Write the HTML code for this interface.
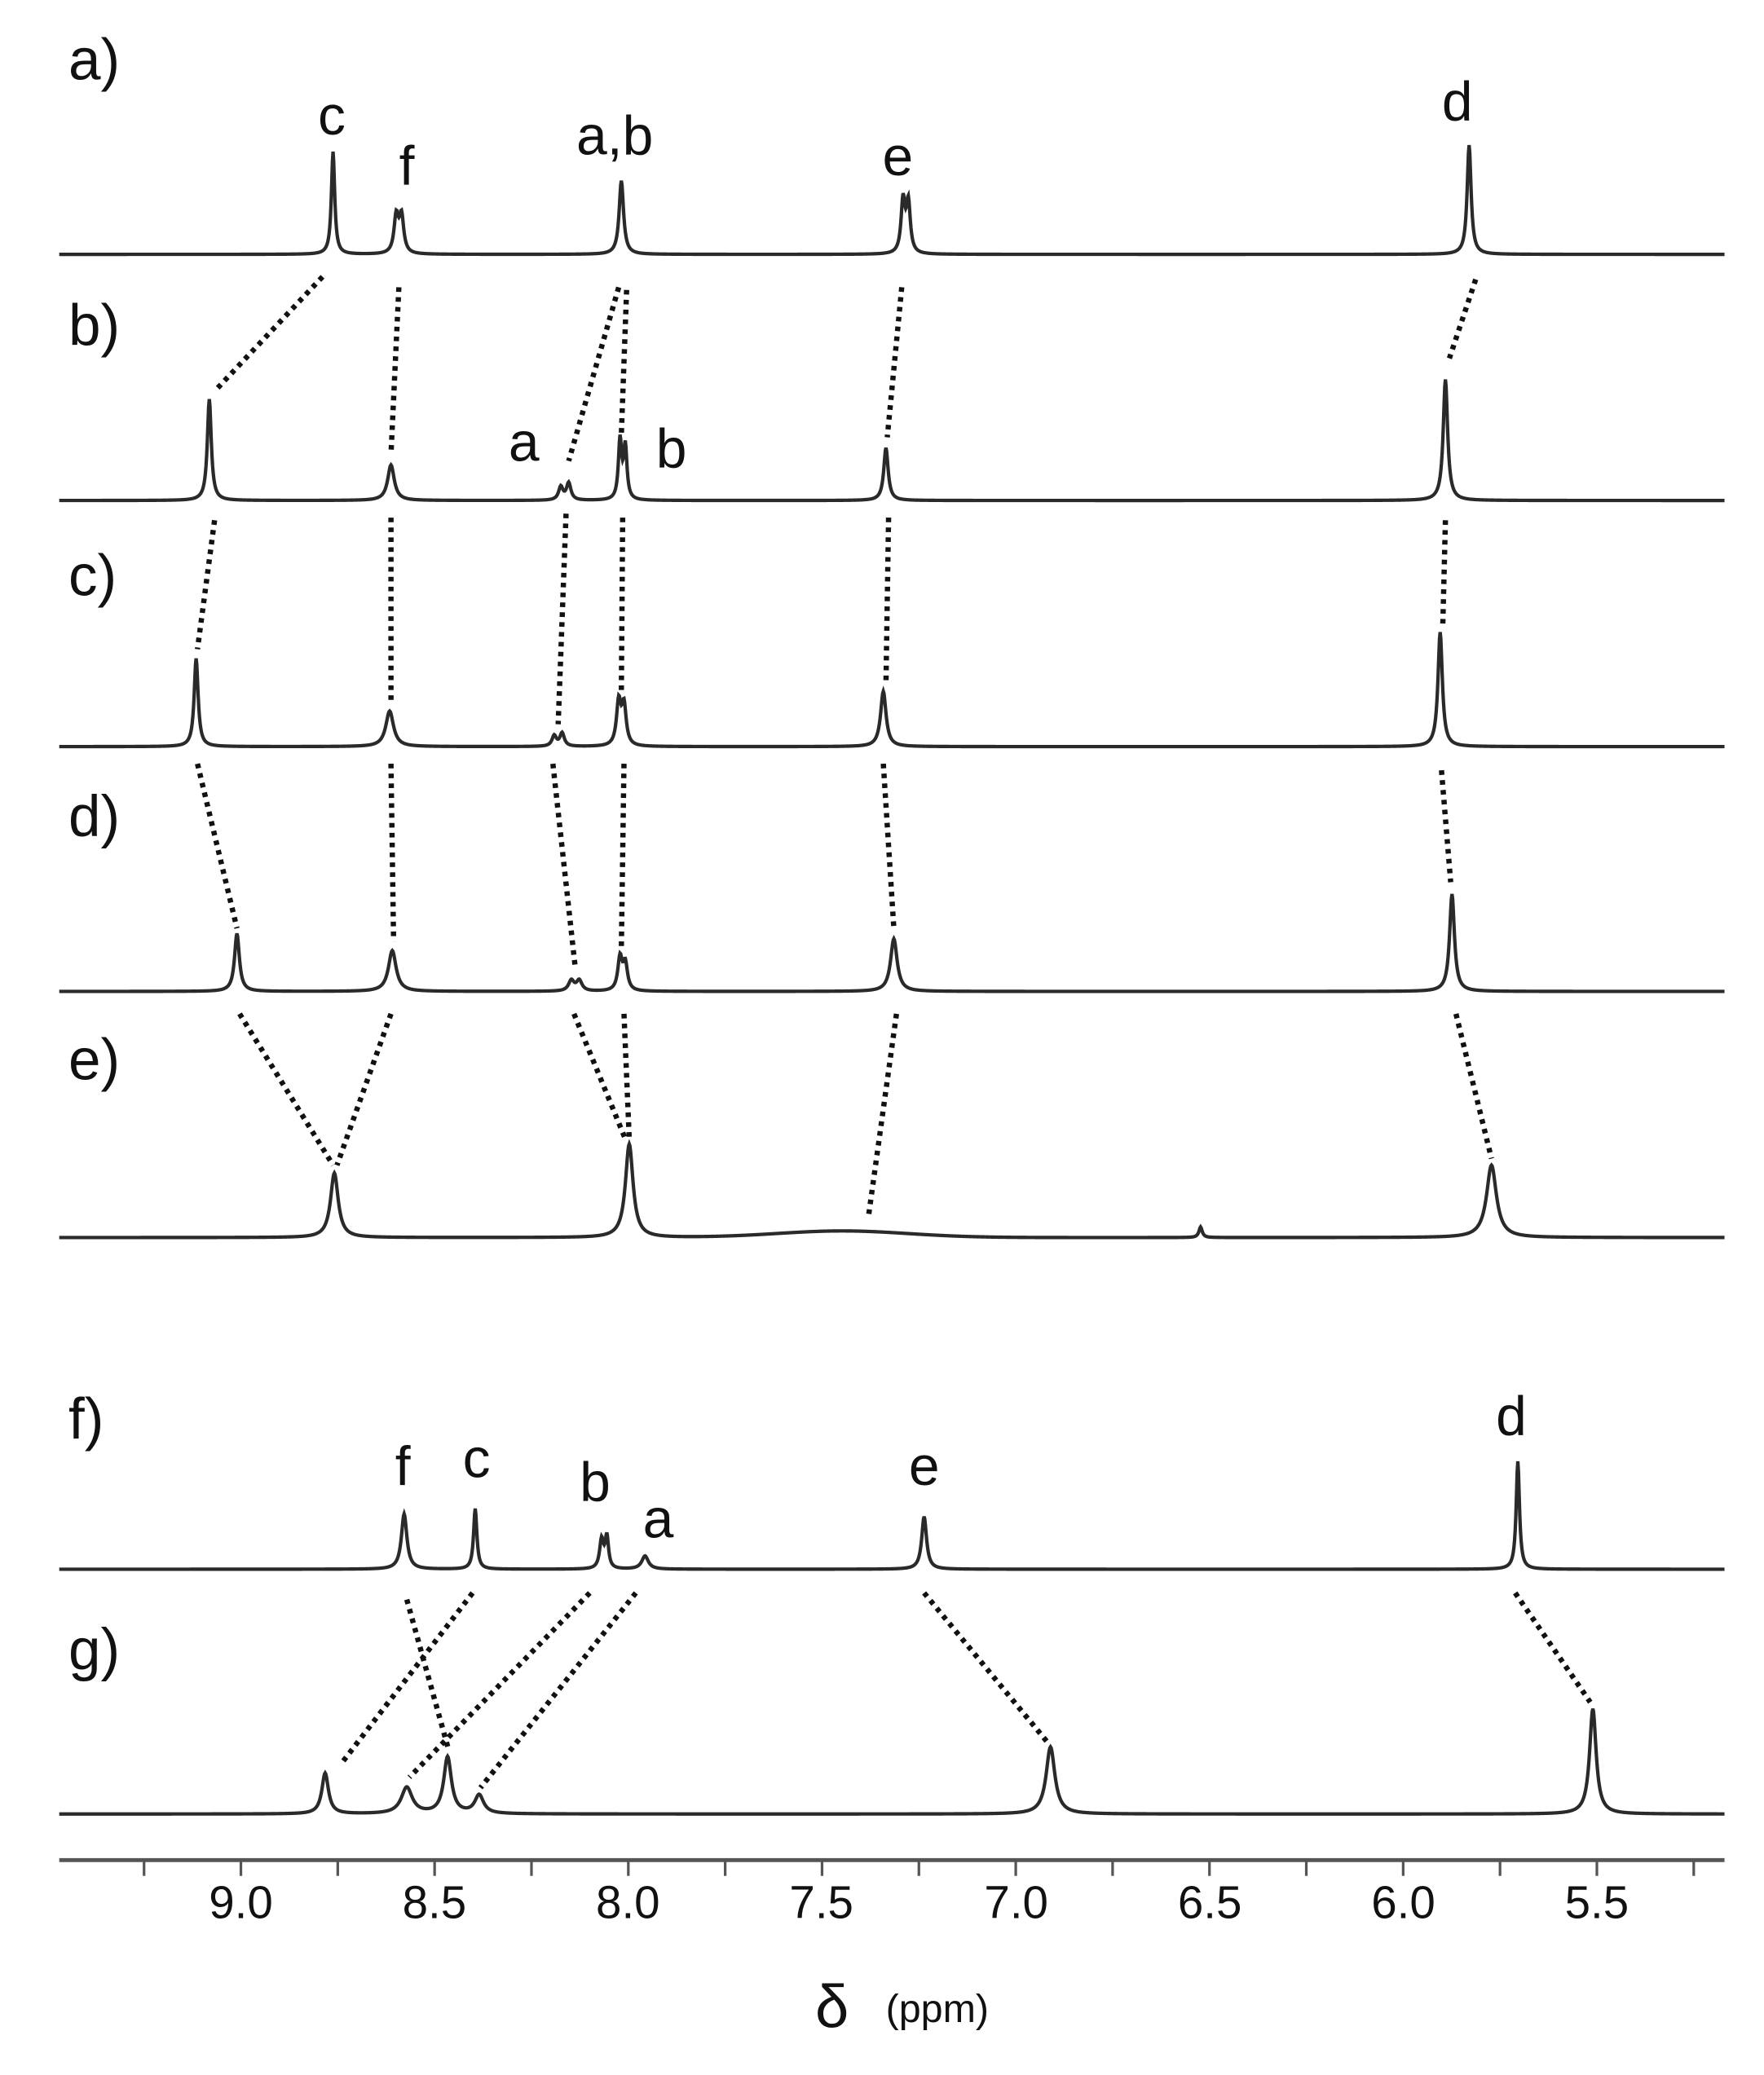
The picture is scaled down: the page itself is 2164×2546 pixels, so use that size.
<!DOCTYPE html>
<html><head><meta charset="utf-8"><style>
html,body{margin:0;padding:0;background:#fff}
svg{display:block}
text{font-family:"Liberation Sans",sans-serif;fill:#111}
</style></head><body>
<svg id="s" width="2164" height="2546" viewBox="0 0 1340 1576" xmlns="http://www.w3.org/2000/svg">
<g id="spec" fill="none" stroke="#2a2a2a" stroke-width="2.6"></g>
<g id="dots" fill="none" stroke="#111" stroke-width="4" stroke-dasharray="3.5 4"></g>
<g id="axis"></g>
<g font-size="44">
<text x="52" y="60">a)</text><text x="52" y="262">b)</text><text x="52" y="452">c)</text>
<text x="52" y="635">d)</text><text x="52" y="820">e)</text><text x="52" y="1093">f)</text><text x="52" y="1268">g)</text>
</g>
<g font-size="42" text-anchor="middle">
<text x="252" y="102">c</text><text x="309" y="140">f</text><text x="467" y="117">a,b</text>
<text x="682" y="133">e</text><text x="1107" y="91">d</text>
<text x="398" y="350">a</text><text x="510" y="355">b</text>
<text x="306" y="1128">f</text><text x="362" y="1122">c</text><text x="452" y="1140">b</text>
<text x="500" y="1168">a</text><text x="702" y="1128">e</text><text x="1148" y="1090">d</text>
</g>
<g font-size="35" text-anchor="middle">
<text x="183" y="1457">9.0</text><text x="330" y="1457">8.5</text><text x="477" y="1457">8.0</text>
<text x="624" y="1457">7.5</text><text x="772" y="1457">7.0</text><text x="919" y="1457">6.5</text>
<text x="1066" y="1457">6.0</text><text x="1213" y="1457">5.5</text>
<text x="632" y="1540" font-size="46">δ</text><text x="712" y="1536" font-size="30">(ppm)</text>
</g>
</svg>
<script>
var NS="http://www.w3.org/2000/svg";
function el(p,t,a){var e=document.createElementNS(NS,t);for(var k in a)e.setAttribute(k,a[k]);document.getElementById(p).appendChild(e);}
var S=[
[193,[[253,78,1.5],[301,28,2],[305,28,2],[472,56,2],[686,40,1.8],[690,38,1.8],[1116,83,1.8]]],
[380,[[159,77,1.8],[297,27,3],[426,10,2],[432,13,2],[471,45,1.5],[475,40,1.5],[673,40,2],[1098,92,2]]],
[567,[[149,67,1.8],[296,27,3.5],[421,8,2],[427,10,2],[470,33,2],[474,30,2],[671,42,2.5],[1094,87,2]]],
[753,[[180,44,2.2],[298,31,3.5],[434,8,2.5],[440,8,2.5],[471,25,2],[475,20,2],[679,40,3],[1103,74,2.2]]],
[940,[[254,49,3.5],[478,71,3.5],[912,8,1.5],[1133,55,4.5]]],
[1192,[[307,42,2.5],[361,46,1.5],[457,22,1.8],[461,24,1.5],[490,10,3],[702,40,2.2],[1153,82,1.5]]],
[1378,[[247,31,3],[309,20,5],[340,43,3.5],[364,14,4],[798,51,4],[1210,80,3]]]
];
for(var i=0;i<S.length;i++){var b=S[i][0],pk=S[i][1],d="";
for(var x=45;x<=1310;x+=0.5){var y=0;for(var j=0;j<pk.length;j++){var u=(x-pk[j][0])/pk[j][2];y+=pk[j][1]/(1+u*u);}
if(i==4){var v=(x-640)/70;y+=5*Math.exp(-v*v);}
d+=(x==45?"M":"L")+x+","+(b-y).toFixed(2);}
el("spec","path",{d:d});}
var L=[[245,210,163,297],[303,218,297,345],[476,220,472,330],[470,218,432,350],[685,218,674,332],[1121,212,1101,272],
[163,395,150,493],[297,393,297,535],[430,390,424,550],[473,393,472,525],[675,393,673,520],[1098,395,1096,475],
[150,580,180,705],[297,580,299,715],[420,580,437,735],[474,580,472,720],[671,580,679,705],[1095,585,1102,670],
[182,770,253,885],[297,770,256,885],[436,770,475,865],[474,770,478,865],[681,770,660,922],[1106,770,1133,880],
[309,1215,341,1330],[359,1210,259,1340],[448,1210,311,1350],[483,1210,365,1358],[702,1210,797,1325],[1151,1210,1208,1293]];
for(var n=0;n<L.length;n++){var l=L[n];el("dots","line",{x1:l[0],y1:l[1],x2:l[2],y2:l[3]});}
el("axis","line",{x1:45,y1:1413,x2:1310,y2:1413,stroke:"#555","stroke-width":3});
for(var q=0;q<20;q++){var p=9.5-q*0.25;var tx=183+(9.0-p)*294.3;if(tx<46||tx>1309)continue;el("axis","line",{x1:tx,y1:1413,x2:tx,y2:1425,stroke:"#555","stroke-width":2});}
</script>
</body></html>
